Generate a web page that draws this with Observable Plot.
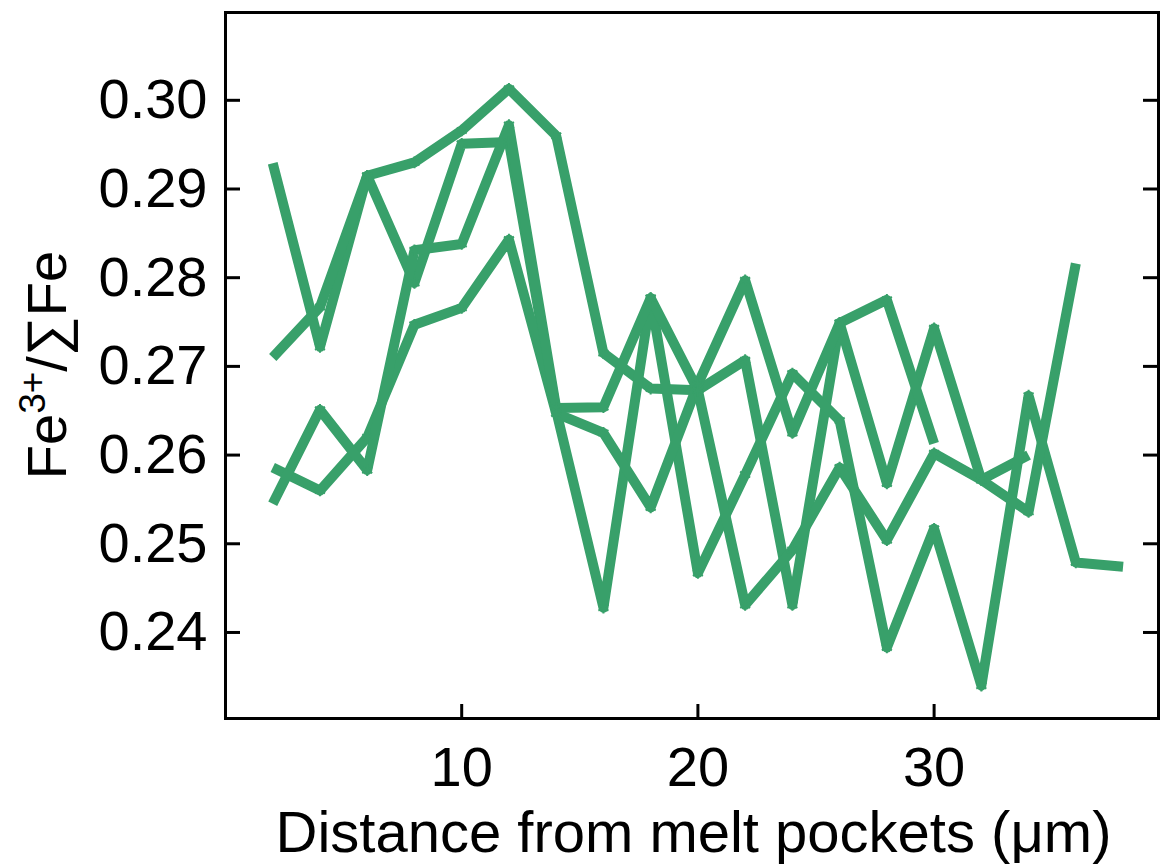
<!DOCTYPE html>
<html>
<head>
<meta charset="utf-8">
<script src="https://cdn.jsdelivr.net/npm/d3@7"></script>
<script src="https://cdn.jsdelivr.net/npm/@observablehq/plot@0.6"></script>
<style>
  html, body { margin: 0; padding: 0; background: #fff; }
  #chart svg { display: block; }
</style>
</head>
<body>
<div id="chart"></div>
<script>
// Distance from melt pockets (µm) at which each profile was sampled
const distances = [2, 4, 6, 8, 10, 12, 14, 16, 18, 20, 22, 24, 26, 28, 30, 32, 34, 36, 38];

// Four Fe3+/ΣFe profiles (each starts at 2 µm; lengths differ)
const profile1 = [0.2929, 0.2722, 0.2915, 0.2930, 0.2966, 0.3013, 0.2960, 0.2715, 0.2675, 0.2673, 0.2707, 0.2431, 0.2749, 0.2568, 0.2743, 0.2572, 0.2600];
const profile2 = [0.2710, 0.2767, 0.2915, 0.2794, 0.2951, 0.2953, 0.2650, 0.2428, 0.2777, 0.2467, 0.2578, 0.2692, 0.2639, 0.2383, 0.2517, 0.2340, 0.2667, 0.2479, 0.2474];
const profile3 = [0.2586, 0.2560, 0.2620, 0.2747, 0.2766, 0.2843, 0.2647, 0.2625, 0.2541, 0.2680, 0.2797, 0.2625, 0.2749, 0.2775, 0.2613];
const profile4 = [0.2545, 0.2651, 0.2583, 0.2831, 0.2838, 0.2972, 0.2653, 0.2654, 0.2777, 0.2673, 0.2431, 0.2493, 0.2586, 0.2504, 0.2602, 0.2572, 0.2536, 0.2816];

const profileNames = ["profile 1", "profile 2", "profile 3", "profile 4"];
const profiles = [profile1, profile2, profile3, profile4];

const yTicks = [0.24, 0.25, 0.26, 0.27, 0.28, 0.29, 0.30];
const xTicks = [10, 20, 30];
const xTitle = "Distance from melt pockets (μm)";

// Tidy table built from the arrays
const rows = [];
profiles.forEach((vals, k) => vals.forEach((v, i) => rows.push({
  profile: profileNames[k], distance: distances[i], ratio: v,
  inner: i > 0 && i < vals.length - 1
})));

const W = 1170, H = 868;
const mL = 225, mR = 12, mT = 12, mB = 150;
const plotW = W - mL - mR, plotH = H - mT - mB;
const green = "#38a06a";
const font = "'Liberation Sans', Arial, Helvetica, sans-serif";

const chart = Plot.plot({
  width: W,
  height: H,
  marginLeft: mL,
  marginRight: mR,
  marginTop: mT,
  marginBottom: mB,
  style: {fontFamily: font, color: "#000", background: "#fff", overflow: "visible"},
  x: {domain: [0, 39.5], label: null},
  y: {domain: [0.2303, 0.3099], label: null},
  marks: [
    Plot.line(rows, {x: "distance", y: "ratio", z: "profile", stroke: green, strokeWidth: 10, strokeLinejoin: "round", strokeLinecap: "butt"}),
    Plot.dot(rows.filter(d => d.inner), {x: "distance", y: "ratio", symbol: "asterisk", r: 5.5, stroke: green, strokeWidth: 2}),
    Plot.frame({stroke: "#000", strokeWidth: 3}),
    Plot.tickY(yTicks, {y: d => d, stroke: "#000", strokeWidth: 3, insetRight: plotW - 15}),
    Plot.tickY(yTicks, {y: d => d, stroke: "#000", strokeWidth: 3, insetLeft: plotW - 15}),
    Plot.tickX(xTicks, {x: d => d, stroke: "#000", strokeWidth: 3, insetTop: plotH - 14}),
    Plot.axisY(yTicks, {tickSize: 0, tickPadding: 18, tickFormat: d => d.toFixed(2), fontSize: 56, label: null}),
    Plot.axisX(xTicks, {tickSize: 0, tickPadding: 28, tickFormat: d => String(d), fontSize: 56, label: null})
  ]
});

const svg = d3.select(chart);
// x-axis title
svg.append("text")
  .attr("x", mL + plotW / 2 + 2)
  .attr("y", 852)
  .attr("text-anchor", "middle")
  .attr("font-family", font)
  .attr("font-size", 58)
  .attr("fill", "#000")
  .text(xTitle);

// y-axis title with superscript
const yt = svg.append("text")
  .attr("transform", `translate(66,${mT + plotH / 2}) rotate(-90)`)
  .attr("text-anchor", "middle")
  .attr("font-family", font)
  .attr("font-size", 56)
  .attr("fill", "#000");
yt.append("tspan").text("Fe");
yt.append("tspan").attr("font-size", 37).attr("dy", -21).text("3+");
yt.append("tspan").attr("dy", 21).text("/∑Fe");

document.getElementById("chart").appendChild(chart);
</script>
</body>
</html>
